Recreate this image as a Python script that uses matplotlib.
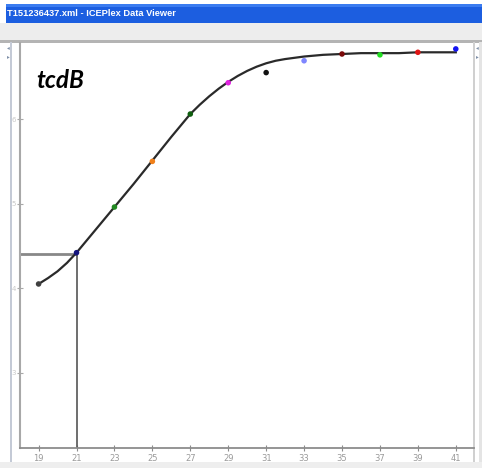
import matplotlib
matplotlib.use('Agg')
import matplotlib.pyplot as plt
from matplotlib.patches import Rectangle

# amplification points (cycle, log signal)
cycles = [19, 21, 23, 25, 27, 29, 31, 33, 35, 37, 39, 41]
signal = [4.05, 4.42, 4.96, 5.50, 6.06, 6.43, 6.55, 6.69, 6.77, 6.76, 6.79, 6.83]
point_colors = ['#404040', '#14147e', '#218a21', '#f0801a', '#0f5f0f', '#e022e0',
                '#111111', '#7f86ff', '#7a0a0a', '#22dd22', '#e01414', '#1414f0']

# fitted curve, read at every half cycle near the bends
fit_cycles = [19, 19.5, 20, 20.5, 21, 22, 23, 24, 25, 26, 27, 27.5, 28, 28.5, 29, 29.5, 30,
              30.5, 31, 31.5, 32, 33, 34, 35, 36, 37, 38, 39, 40, 41]
fit_signal = [4.05, 4.12, 4.20, 4.30, 4.42, 4.69, 4.96, 5.23, 5.51, 5.79, 6.06, 6.17, 6.27,
              6.36, 6.44, 6.51, 6.57, 6.62, 6.66, 6.69, 6.71, 6.74, 6.76, 6.77, 6.78, 6.78,
              6.78, 6.79, 6.79, 6.79]

threshold = 4.40
ct_cycle = 21

x_ticks = [19, 21, 23, 25, 27, 29, 31, 33, 35, 37, 39, 41]
y_ticks = [3, 4, 5, 6]
y_tick_labels = ['3', '4', '5', '6']

window_title = 'T151236437.xml - ICEPlex Data Viewer'
gene_label = 'tcdB'

W, H = 482, 468
fig = plt.figure(figsize=(W / 100, H / 100), dpi=100)
fig.patch.set_facecolor('white')

# window chrome, drawn in pixel coordinates on a background axes
bg = fig.add_axes([0, 0, 1, 1])
bg.set_xlim(0, W)
bg.set_ylim(H, 0)
bg.axis('off')
bg.add_patch(Rectangle((6, 4), W - 6, 19, color='#1c5ee0', lw=0))
bg.add_patch(Rectangle((6, 4), W - 6, 3, color='#3b7cf0', lw=0))
bg.add_patch(Rectangle((0, 23), W, 18, color='#ededed', lw=0))
bg.add_patch(Rectangle((0, 40), W, 2.5, color='#b4b4b4', lw=0))
bg.add_patch(Rectangle((10, 42), 2, 420, color='#c4cad6', lw=0))
bg.add_patch(Rectangle((473, 42), 1.5, 420, color='#d0d0d0', lw=0))
bg.add_patch(Rectangle((479, 42), 3, 420, color='#e4e4e4', lw=0))
bg.add_patch(Rectangle((0, 462), W, 6, color='#eeeeee', lw=0))
bg.text(7, 14, window_title, color='white', fontsize=6.7, fontweight='bold',
        family='Liberation Sans', va='center', ha='left')
bg.text(477, 48, '\u25c2', color='#8090a8', fontsize=4, ha='center', va='center')
bg.text(477, 57, '\u25b8', color='#8090a8', fontsize=4, ha='center', va='center')
bg.text(8, 48, '\u25c2', color='#8090a8', fontsize=4, ha='center', va='center')
bg.text(8, 57, '\u25b8', color='#8090a8', fontsize=4, ha='center', va='center')

# plot axes
ax = fig.add_axes([20 / W, 1 - 448 / H, (474 - 20) / W, (448 - 43) / H])
ax.set_facecolor('none')
ax.set_xlim(18.02, 41.96)
ax.set_ylim(2.11, 6.90)

ax.spines['top'].set_visible(False)
ax.spines['right'].set_visible(False)
ax.spines['left'].set_color('#a8a8a8')
ax.spines['left'].set_linewidth(1.5)
ax.spines['bottom'].set_color('#8c8c8c')
ax.spines['bottom'].set_linewidth(1.3)

ax.set_xticks(x_ticks)
ax.set_xticklabels([str(t) for t in x_ticks])
ax.set_yticks(y_ticks)
ax.set_yticklabels(y_tick_labels)
ax.tick_params(axis='x', direction='inout', length=4, width=0.8, colors='#8c8c8c',
               labelsize=6, labelcolor='#9a9a9a', pad=2)
ax.tick_params(axis='y', direction='inout', length=4, width=0.8, colors='#a8a8a8',
               labelsize=5, labelcolor='#c8c8c8', pad=1)

# threshold / Ct guide lines
ax.plot([18.02, ct_cycle], [threshold, threshold], color='#888888', lw=2, solid_capstyle='butt')
ax.plot([ct_cycle, ct_cycle], [2.11, threshold], color='#555555', lw=1.2)

ax.plot(fit_cycles, fit_signal, color='#2a2a2a', lw=1.6, zorder=3)
ax.scatter(cycles, signal, c=point_colors, s=16, zorder=4, linewidths=0)

ax.text(0.035, 0.935, gene_label, transform=ax.transAxes, fontsize=17.5,
        fontweight='bold', fontstyle='italic', family='Lato', va='top', ha='left')

fig.savefig('out.png', dpi=100, facecolor='white')
